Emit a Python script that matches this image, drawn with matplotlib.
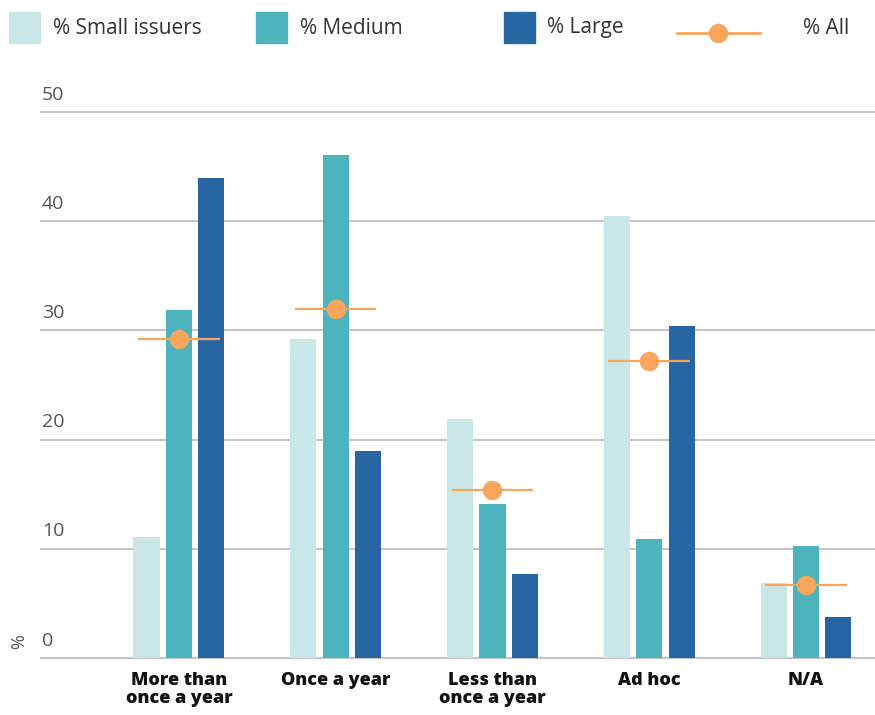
import numpy as np
import matplotlib
matplotlib.use("Agg")
import matplotlib.pyplot as plt
from matplotlib.patches import Rectangle
from matplotlib.lines import Line2D

# data
categories = ["More than\nonce a year", "Once a year", "Less than\nonce a year", "Ad hoc", "N/A"]
small = [11.1, 29.2, 21.9, 40.5, 6.9]
medium = [31.9, 46.1, 14.1, 10.9, 10.3]
large = [44.0, 19.0, 7.7, 30.4, 3.8]
all_issuers = [29.2, 32.0, 15.4, 27.2, 6.7]
yticks = [0, 10, 20, 30, 40, 50]

c_small = "#c9e7e6"
c_medium = "#4db3bd"
c_large = "#2766a3"
c_all = "#f8a65d"
grid_c = "#c4c4cc"

plt.rcParams['font.family'] = ['Open Sans', 'DejaVu Sans']

fig = plt.figure(figsize=(8.75, 7.15), dpi=100)
ax = fig.add_axes([41 / 875, 57 / 715, 834 / 875, 546 / 715])

x = np.arange(len(categories))
w = 0.166
off = 0.207
ax.bar(x - off, small, w, color=c_small, zorder=3)
ax.bar(x, medium, w, color=c_medium, zorder=3)
ax.bar(x + off, large, w, color=c_large, zorder=3)

# % All: short horizontal line with a dot in the middle
for xi, v in zip(x, all_issuers):
    ax.plot([xi - 0.26, xi + 0.26], [v, v], color=c_all, lw=1.6, zorder=4,
            solid_capstyle='butt')
ax.plot(x, all_issuers, 'o', color=c_all, ms=13, zorder=5)

ax.set_xlim(-0.88, 4.44)
ax.set_ylim(0, 50)
for s in ax.spines.values():
    s.set_visible(False)
ax.set_yticks([])
ax.set_xticks(x)
ax.set_xticklabels(categories, fontsize=13, fontweight='heavy', color='#111111',
                   linespacing=1.1)
ax.tick_params(axis='x', length=0, pad=10)

for t in yticks:
    ax.axhline(t, color=grid_c, lw=1.5, zorder=1, clip_on=False)
    ax.annotate(str(t), xy=(0, t), xycoords=('axes fraction', 'data'),
                xytext=(0.5, 6), textcoords='offset points', ha='left', va='bottom',
                fontsize=14, color='#555555')

fig.text(19 / 875, 1 - 642 / 715, "%", rotation=90, ha='center', va='center',
         fontsize=13, color='#555555')

# legend drawn by hand across the top
ly = 1 - 28 / 715
sq_h = 31 / 715
sq_w = 31 / 875
for px, tx, col, lab in [(9, 53, c_small, "% Small issuers"), (256, 300, c_medium, "% Medium"),
                         (504, 547, c_large, "% Large")]:
    fig.patches.append(Rectangle((px / 875, ly - sq_h / 2), sq_w, sq_h, color=col,
                                 transform=fig.transFigure))
    fig.text(tx / 875, ly, lab, ha='left', va='center', fontsize=15,
             color='#333333')
lly = 1 - 33 / 715
fig.lines.append(Line2D([677 / 875, 760 / 875], [lly, lly], color=c_all, lw=2,
                        transform=fig.transFigure))
fig.lines.append(Line2D([718 / 875], [lly], marker='o', color=c_all, ms=13,
                        transform=fig.transFigure))
fig.text(803 / 875, ly, "% All", ha='left', va='center', fontsize=15, color='#333333')

fig.savefig("out.png", dpi=100)
